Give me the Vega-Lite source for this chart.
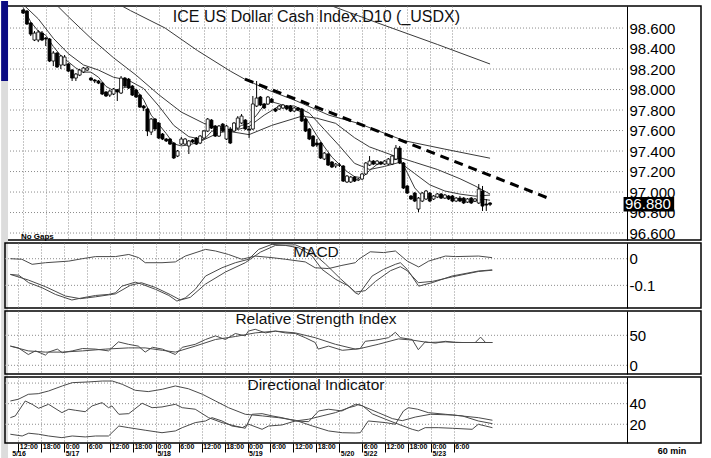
{
"$schema": "https://vega.github.io/schema/vega-lite/v6.json",
"background": "white",
"padding": {"left": 0, "top": 0, "right": 6, "bottom": 0},
"spacing": 3,
"bounds": "flush",
"config": {"view": {"stroke": "black", "strokeWidth": 1.5}, "font": "Liberation Sans", "axis": {"labelOverlap": false}},
"datasets": {
"candles": [
{"k":0,"o":98.776,"h":98.785,"l":98.737,"c":98.746},
{"k":1,"o":98.766,"h":98.776,"l":98.63,"c":98.639},
{"k":2,"o":98.649,"h":98.659,"l":98.522,"c":98.541},
{"k":3,"o":98.483,"h":98.571,"l":98.473,"c":98.551},
{"k":4,"o":98.483,"h":98.58,"l":98.463,"c":98.561},
{"k":5,"o":98.551,"h":98.571,"l":98.473,"c":98.483},
{"k":6,"o":98.502,"h":98.512,"l":98.424,"c":98.493},
{"k":7,"o":98.493,"h":98.502,"l":98.268,"c":98.278},
{"k":8,"o":98.278,"h":98.376,"l":98.229,"c":98.356},
{"k":9,"o":98.356,"h":98.366,"l":98.21,"c":98.22},
{"k":10,"o":98.239,"h":98.337,"l":98.2,"c":98.327},
{"k":11,"o":98.239,"h":98.337,"l":98.229,"c":98.317},
{"k":12,"o":98.249,"h":98.259,"l":98.171,"c":98.18},
{"k":13,"o":98.19,"h":98.2,"l":98.083,"c":98.112},
{"k":14,"o":98.112,"h":98.161,"l":98.083,"c":98.151},
{"k":15,"o":98.141,"h":98.2,"l":98.131,"c":98.19},
{"k":16,"o":98.171,"h":98.22,"l":98.161,"c":98.21},
{"k":17,"o":98.19,"h":98.22,"l":98.18,"c":98.21},
{"k":18,"o":98.112,"h":98.122,"l":98.083,"c":98.093},
{"k":19,"o":98.093,"h":98.102,"l":98.063,"c":98.083},
{"k":20,"o":98.083,"h":98.093,"l":98.053,"c":98.063},
{"k":21,"o":98.063,"h":98.073,"l":97.946,"c":97.956},
{"k":22,"o":97.976,"h":97.985,"l":97.927,"c":97.937},
{"k":23,"o":97.946,"h":97.995,"l":97.927,"c":97.985},
{"k":24,"o":97.956,"h":98.015,"l":97.946,"c":98.005},
{"k":25,"o":97.995,"h":98.005,"l":97.888,"c":97.976},
{"k":26,"o":97.966,"h":98.132,"l":97.956,"c":98.112},
{"k":27,"o":98.112,"h":98.122,"l":98.024,"c":98.034},
{"k":28,"o":98.102,"h":98.112,"l":98.005,"c":98.015},
{"k":29,"o":98.034,"h":98.044,"l":97.937,"c":97.946},
{"k":30,"o":97.995,"h":98.005,"l":97.917,"c":97.927},
{"k":31,"o":97.946,"h":97.956,"l":97.82,"c":97.829},
{"k":32,"o":97.839,"h":97.849,"l":97.79,"c":97.82},
{"k":33,"o":97.81,"h":97.82,"l":97.546,"c":97.595},
{"k":34,"o":97.585,"h":97.722,"l":97.556,"c":97.712},
{"k":35,"o":97.712,"h":97.722,"l":97.595,"c":97.615},
{"k":36,"o":97.673,"h":97.683,"l":97.517,"c":97.527},
{"k":37,"o":97.566,"h":97.576,"l":97.507,"c":97.517},
{"k":38,"o":97.517,"h":97.527,"l":97.488,"c":97.498},
{"k":39,"o":97.517,"h":97.527,"l":97.459,"c":97.468},
{"k":40,"o":97.478,"h":97.488,"l":97.322,"c":97.332},
{"k":41,"o":97.351,"h":97.41,"l":97.341,"c":97.4},
{"k":42,"o":97.468,"h":97.537,"l":97.459,"c":97.517},
{"k":43,"o":97.468,"h":97.527,"l":97.459,"c":97.517},
{"k":44,"o":97.449,"h":97.507,"l":97.371,"c":97.498},
{"k":45,"o":97.507,"h":97.517,"l":97.478,"c":97.488},
{"k":46,"o":97.527,"h":97.537,"l":97.459,"c":97.468},
{"k":47,"o":97.478,"h":97.556,"l":97.468,"c":97.546},
{"k":48,"o":97.527,"h":97.605,"l":97.517,"c":97.595},
{"k":49,"o":97.595,"h":97.722,"l":97.585,"c":97.712},
{"k":50,"o":97.702,"h":97.712,"l":97.615,"c":97.624},
{"k":51,"o":97.644,"h":97.654,"l":97.537,"c":97.546},
{"k":52,"o":97.546,"h":97.654,"l":97.537,"c":97.644},
{"k":53,"o":97.663,"h":97.673,"l":97.585,"c":97.595},
{"k":54,"o":97.517,"h":97.654,"l":97.507,"c":97.644},
{"k":55,"o":97.615,"h":97.634,"l":97.468,"c":97.478},
{"k":56,"o":97.595,"h":97.683,"l":97.585,"c":97.673},
{"k":57,"o":97.624,"h":97.741,"l":97.615,"c":97.722},
{"k":58,"o":97.673,"h":97.761,"l":97.663,"c":97.741},
{"k":59,"o":97.702,"h":97.712,"l":97.605,"c":97.615},
{"k":60,"o":97.615,"h":97.644,"l":97.527,"c":97.605},
{"k":61,"o":97.615,"h":97.937,"l":97.605,"c":97.859},
{"k":62,"o":97.839,"h":98.083,"l":97.829,"c":97.917},
{"k":63,"o":97.927,"h":97.937,"l":97.839,"c":97.849},
{"k":64,"o":97.859,"h":97.869,"l":97.81,"c":97.82},
{"k":65,"o":97.859,"h":97.937,"l":97.849,"c":97.927},
{"k":66,"o":97.907,"h":97.917,"l":97.869,"c":97.878},
{"k":67,"o":97.81,"h":97.82,"l":97.78,"c":97.79},
{"k":68,"o":97.81,"h":97.849,"l":97.8,"c":97.839},
{"k":69,"o":97.82,"h":97.859,"l":97.81,"c":97.849},
{"k":70,"o":97.839,"h":97.849,"l":97.8,"c":97.81},
{"k":71,"o":97.839,"h":97.849,"l":97.78,"c":97.79},
{"k":72,"o":97.79,"h":97.829,"l":97.78,"c":97.82},
{"k":73,"o":97.82,"h":97.829,"l":97.79,"c":97.8},
{"k":74,"o":97.81,"h":97.82,"l":97.683,"c":97.693},
{"k":75,"o":97.712,"h":97.722,"l":97.585,"c":97.595},
{"k":76,"o":97.615,"h":97.624,"l":97.507,"c":97.517},
{"k":77,"o":97.546,"h":97.556,"l":97.439,"c":97.449},
{"k":78,"o":97.478,"h":97.517,"l":97.439,"c":97.459},
{"k":79,"o":97.478,"h":97.488,"l":97.322,"c":97.332},
{"k":80,"o":97.322,"h":97.39,"l":97.312,"c":97.38},
{"k":81,"o":97.371,"h":97.38,"l":97.254,"c":97.263},
{"k":82,"o":97.293,"h":97.302,"l":97.234,"c":97.244},
{"k":83,"o":97.254,"h":97.283,"l":97.234,"c":97.273},
{"k":84,"o":97.263,"h":97.283,"l":97.244,"c":97.263},
{"k":85,"o":97.254,"h":97.263,"l":97.098,"c":97.107},
{"k":86,"o":97.098,"h":97.166,"l":97.088,"c":97.156},
{"k":87,"o":97.098,"h":97.156,"l":97.088,"c":97.146},
{"k":88,"o":97.146,"h":97.156,"l":97.098,"c":97.107},
{"k":89,"o":97.117,"h":97.137,"l":97.107,"c":97.127},
{"k":90,"o":97.127,"h":97.186,"l":97.117,"c":97.176},
{"k":91,"o":97.176,"h":97.293,"l":97.166,"c":97.283},
{"k":92,"o":97.263,"h":97.351,"l":97.254,"c":97.302},
{"k":93,"o":97.302,"h":97.312,"l":97.263,"c":97.273},
{"k":94,"o":97.273,"h":97.312,"l":97.263,"c":97.302},
{"k":95,"o":97.293,"h":97.302,"l":97.263,"c":97.273},
{"k":96,"o":97.273,"h":97.312,"l":97.263,"c":97.302},
{"k":97,"o":97.273,"h":97.332,"l":97.263,"c":97.322},
{"k":98,"o":97.273,"h":97.361,"l":97.263,"c":97.351},
{"k":99,"o":97.322,"h":97.459,"l":97.312,"c":97.429},
{"k":100,"o":97.429,"h":97.449,"l":97.273,"c":97.283},
{"k":101,"o":97.283,"h":97.293,"l":97.029,"c":97.039},
{"k":102,"o":97.059,"h":97.068,"l":96.981,"c":96.99},
{"k":103,"o":96.961,"h":96.971,"l":96.922,"c":96.932},
{"k":104,"o":96.99,"h":97.0,"l":96.902,"c":96.912},
{"k":105,"o":96.834,"h":96.951,"l":96.805,"c":96.941},
{"k":106,"o":96.912,"h":97.0,"l":96.902,"c":96.99},
{"k":107,"o":96.932,"h":97.02,"l":96.922,"c":97.01},
{"k":108,"o":96.99,"h":97.0,"l":96.902,"c":96.912},
{"k":109,"o":96.932,"h":96.971,"l":96.922,"c":96.961},
{"k":110,"o":96.951,"h":96.99,"l":96.941,"c":96.981},
{"k":111,"o":96.981,"h":96.99,"l":96.932,"c":96.941},
{"k":112,"o":96.941,"h":96.981,"l":96.932,"c":96.971},
{"k":113,"o":96.961,"h":96.971,"l":96.922,"c":96.932},
{"k":114,"o":96.961,"h":96.971,"l":96.902,"c":96.912},
{"k":115,"o":96.912,"h":96.951,"l":96.902,"c":96.941},
{"k":116,"o":96.941,"h":96.961,"l":96.902,"c":96.912},
{"k":117,"o":96.941,"h":96.951,"l":96.883,"c":96.893},
{"k":118,"o":96.902,"h":96.941,"l":96.893,"c":96.932},
{"k":119,"o":96.941,"h":96.951,"l":96.883,"c":96.893},
{"k":120,"o":96.912,"h":96.941,"l":96.902,"c":96.932},
{"k":121,"o":96.893,"h":97.078,"l":96.883,"c":97.029},
{"k":122,"o":97.01,"h":97.059,"l":96.815,"c":96.863},
{"k":123,"o":96.883,"h":96.932,"l":96.815,"c":96.873},
{"k":124,"o":96.893,"h":96.902,"l":96.863,"c":96.88}
],
"ma": [
{"s":"S","k":0,"v":98.80},{"s":"S","k":2,"v":98.66},{"s":"S","k":4,"v":98.57},{"s":"S","k":6,"v":98.53},{"s":"S","k":8,"v":98.42},{"s":"S","k":10,"v":98.33},{"s":"S","k":12,"v":98.27},{"s":"S","k":14,"v":98.21},{"s":"S","k":16,"v":98.17},{"s":"S","k":18,"v":98.17},{"s":"S","k":20,"v":98.12},{"s":"S","k":22,"v":98.03},{"s":"S","k":24,"v":97.99},{"s":"S","k":26,"v":98.01},{"s":"S","k":28,"v":98.03},{"s":"S","k":30,"v":98.00},{"s":"S","k":32,"v":97.90},{"s":"S","k":34,"v":97.75},{"s":"S","k":36,"v":97.66},{"s":"S","k":38,"v":97.57},{"s":"S","k":40,"v":97.47},{"s":"S","k":42,"v":97.45},{"s":"S","k":44,"v":97.46},{"s":"S","k":46,"v":97.48},{"s":"S","k":48,"v":97.51},{"s":"S","k":50,"v":97.59},{"s":"S","k":52,"v":97.62},{"s":"S","k":54,"v":97.61},{"s":"S","k":56,"v":97.61},{"s":"S","k":58,"v":97.65},{"s":"S","k":60,"v":97.67},{"s":"S","k":62,"v":97.75},{"s":"S","k":64,"v":97.85},{"s":"S","k":66,"v":97.88},{"s":"S","k":68,"v":97.86},{"s":"S","k":70,"v":97.83},{"s":"S","k":72,"v":97.81},{"s":"S","k":74,"v":97.78},{"s":"S","k":76,"v":97.67},{"s":"S","k":78,"v":97.55},{"s":"S","k":80,"v":97.44},{"s":"S","k":82,"v":97.34},{"s":"S","k":84,"v":97.27},{"s":"S","k":86,"v":97.20},{"s":"S","k":88,"v":97.15},{"s":"S","k":90,"v":97.14},{"s":"S","k":92,"v":97.21},{"s":"S","k":94,"v":97.27},{"s":"S","k":96,"v":97.29},{"s":"S","k":98,"v":97.31},{"s":"S","k":100,"v":97.33},{"s":"S","k":102,"v":97.19},{"s":"S","k":104,"v":97.04},{"s":"S","k":106,"v":96.96},{"s":"S","k":108,"v":96.95},{"s":"S","k":110,"v":96.96},{"s":"S","k":112,"v":96.96},{"s":"S","k":114,"v":96.94},{"s":"S","k":116,"v":96.93},{"s":"S","k":118,"v":96.91},{"s":"S","k":120,"v":96.91},{"s":"S","k":122,"v":96.93},{"s":"S","k":124,"v":96.92},
{"s":"M","k":0,"v":98.83},{"s":"M","k":4,"v":98.69},{"s":"M","k":8,"v":98.50},{"s":"M","k":12,"v":98.35},{"s":"M","k":16,"v":98.24},{"s":"M","k":20,"v":98.19},{"s":"M","k":24,"v":98.12},{"s":"M","k":28,"v":98.09},{"s":"M","k":32,"v":98.01},{"s":"M","k":36,"v":97.84},{"s":"M","k":40,"v":97.65},{"s":"M","k":44,"v":97.54},{"s":"M","k":48,"v":97.51},{"s":"M","k":52,"v":97.58},{"s":"M","k":56,"v":97.60},{"s":"M","k":60,"v":97.64},{"s":"M","k":64,"v":97.75},{"s":"M","k":68,"v":97.84},{"s":"M","k":72,"v":97.84},{"s":"M","k":76,"v":97.77},{"s":"M","k":80,"v":97.61},{"s":"M","k":84,"v":97.45},{"s":"M","k":88,"v":97.28},{"s":"M","k":92,"v":97.22},{"s":"M","k":96,"v":97.25},{"s":"M","k":100,"v":97.29},{"s":"M","k":104,"v":97.18},{"s":"M","k":108,"v":97.07},{"s":"M","k":112,"v":97.01},{"s":"M","k":116,"v":96.98},{"s":"M","k":120,"v":96.96},{"s":"M","k":124,"v":96.97},
{"s":"L3","k":0,"v":99.12},{"s":"L3","k":6,"v":98.93},{"s":"L3","k":12,"v":98.71},{"s":"L3","k":18,"v":98.50},{"s":"L3","k":24,"v":98.31},{"s":"L3","k":30,"v":98.14},{"s":"L3","k":36,"v":97.95},{"s":"L3","k":42,"v":97.78},{"s":"L3","k":48,"v":97.67},{"s":"L3","k":55,"v":97.59},{"s":"L3","k":60,"v":97.56},{"s":"L3","k":66,"v":97.65},{"s":"L3","k":74,"v":97.74},{"s":"L3","k":78,"v":97.72},{"s":"L3","k":83,"v":97.67},{"s":"L3","k":88,"v":97.53},{"s":"L3","k":92,"v":97.44},{"s":"L3","k":98,"v":97.36},{"s":"L3","k":104,"v":97.29},{"s":"L3","k":110,"v":97.22},{"s":"L3","k":116,"v":97.13},{"s":"L3","k":120,"v":97.06},{"s":"L3","k":124,"v":96.98},
{"s":"L2","k":0,"v":99.30},{"s":"L2","k":15,"v":99.04},{"s":"L2","k":28.5,"v":98.77},{"s":"L2","k":37.7,"v":98.60},{"s":"L2","k":46.3,"v":98.38},{"s":"L2","k":55,"v":98.18},{"s":"L2","k":58.9,"v":98.10},{"s":"L2","k":65.4,"v":97.99},{"s":"L2","k":72.5,"v":97.89},{"s":"L2","k":81.2,"v":97.75},{"s":"L2","k":89,"v":97.67},{"s":"L2","k":101.3,"v":97.50},{"s":"L2","k":111.8,"v":97.42},{"s":"L2","k":124,"v":97.33},
{"s":"L1","k":78,"v":98.87},{"s":"L1","k":94.2,"v":98.649},{"s":"L1","k":110,"v":98.44},{"s":"L1","k":124,"v":98.249}
],
"trend": [{"k":58.9,"v":98.102},{"k":139.4,"v":96.941}],
"macd": [
{"s":"A","k":-2.1,"v":0},{"s":"A","k":0.9,"v":-0.002},{"s":"A","k":3.6,"v":-0.021},{"s":"A","k":7.1,"v":-0.015},{"s":"A","k":13.2,"v":-0.009},{"s":"A","k":16.7,"v":0},{"s":"A","k":20.2,"v":0.008},{"s":"A","k":25.4,"v":0.008},{"s":"A","k":28.9,"v":0.016},{"s":"A","k":31.5,"v":0.004},{"s":"A","k":33.2,"v":-0.015},{"s":"A","k":37.6,"v":-0.015},{"s":"A","k":41.1,"v":-0.012},{"s":"A","k":43.7,"v":0.01},{"s":"A","k":49,"v":0.035},{"s":"A","k":51.6,"v":0.029},{"s":"A","k":55,"v":0.016},{"s":"A","k":58.5,"v":-0.002},{"s":"A","k":62,"v":0.01},{"s":"A","k":66.4,"v":0.004},{"s":"A","k":69.9,"v":-0.002},{"s":"A","k":75.1,"v":-0.012},{"s":"A","k":77.7,"v":-0.034},{"s":"A","k":81.2,"v":-0.037},{"s":"A","k":84.7,"v":-0.025},{"s":"A","k":88.2,"v":-0.015},{"s":"A","k":89.1,"v":-0.002},{"s":"A","k":92.1,"v":0.026},{"s":"A","k":95.6,"v":0.023},{"s":"A","k":98.7,"v":0.029},{"s":"A","k":101.8,"v":-0.009},{"s":"A","k":104.8,"v":-0.031},{"s":"A","k":107.4,"v":-0.009},{"s":"A","k":111.8,"v":0.01},{"s":"A","k":114.4,"v":0.008},{"s":"A","k":120.5,"v":0.01},{"s":"A","k":124,"v":0.004},
{"s":"B","k":-2.1,"v":-0.059},{"s":"B","k":0.1,"v":-0.062},{"s":"B","k":2.7,"v":-0.09},{"s":"B","k":6.2,"v":-0.109},{"s":"B","k":9.7,"v":-0.134},{"s":"B","k":14,"v":-0.155},{"s":"B","k":16.7,"v":-0.147},{"s":"B","k":20.2,"v":-0.138},{"s":"B","k":23.6,"v":-0.134},{"s":"B","k":25.4,"v":-0.128},{"s":"B","k":27.1,"v":-0.103},{"s":"B","k":30.6,"v":-0.088},{"s":"B","k":32.4,"v":-0.096},{"s":"B","k":35.9,"v":-0.115},{"s":"B","k":39.4,"v":-0.138},{"s":"B","k":41.5,"v":-0.159},{"s":"B","k":43.7,"v":-0.147},{"s":"B","k":46.3,"v":-0.115},{"s":"B","k":49,"v":-0.065},{"s":"B","k":53.3,"v":-0.034},{"s":"B","k":56.8,"v":-0.015},{"s":"B","k":60.3,"v":-0.002},{"s":"B","k":62.9,"v":0.035},{"s":"B","k":66.4,"v":0.054},{"s":"B","k":69.9,"v":0.05},{"s":"B","k":73.4,"v":0.041},{"s":"B","k":76.9,"v":0.01},{"s":"B","k":79.5,"v":-0.04},{"s":"B","k":83,"v":-0.077},{"s":"B","k":86.5,"v":-0.103},{"s":"B","k":88.2,"v":-0.128},{"s":"B","k":89.1,"v":-0.134},{"s":"B","k":92.6,"v":-0.065},{"s":"B","k":95.6,"v":-0.04},{"s":"B","k":98.7,"v":-0.021},{"s":"B","k":100,"v":-0.015},{"s":"B","k":101.8,"v":-0.04},{"s":"B","k":104.8,"v":-0.103},{"s":"B","k":108.3,"v":-0.09},{"s":"B","k":113.5,"v":-0.065},{"s":"B","k":120.5,"v":-0.046},{"s":"B","k":124,"v":-0.042},
{"s":"C","k":-2.1,"v":-0.059},{"s":"C","k":2.6,"v":-0.08},{"s":"C","k":7.1,"v":-0.105},{"s":"C","k":12.3,"v":-0.14},{"s":"C","k":16.2,"v":-0.15},{"s":"C","k":20.2,"v":-0.143},{"s":"C","k":25.4,"v":-0.132},{"s":"C","k":29.3,"v":-0.1},{"s":"C","k":32.2,"v":-0.09},{"s":"C","k":35.9,"v":-0.108},{"s":"C","k":39.8,"v":-0.135},{"s":"C","k":42.4,"v":-0.155},{"s":"C","k":45,"v":-0.145},{"s":"C","k":49,"v":-0.095},{"s":"C","k":54.2,"v":-0.05},{"s":"C","k":59.4,"v":-0.015},{"s":"C","k":63.4,"v":0.025},{"s":"C","k":67.3,"v":0.05},{"s":"C","k":72.5,"v":0.052},{"s":"C","k":76.4,"v":0.03},{"s":"C","k":80.4,"v":-0.02},{"s":"C","k":84.3,"v":-0.075},{"s":"C","k":88.2,"v":-0.125},{"s":"C","k":90.8,"v":-0.12},{"s":"C","k":93.5,"v":-0.085},{"s":"C","k":97.4,"v":-0.045},{"s":"C","k":100,"v":-0.03},{"s":"C","k":101.8,"v":-0.045},{"s":"C","k":104.7,"v":-0.09},{"s":"C","k":108.4,"v":-0.085},{"s":"C","k":113.6,"v":-0.068},{"s":"C","k":120.4,"v":-0.048},{"s":"C","k":124.1,"v":-0.043}
],
"rsi": [
{"s":"R","k":-2.1,"v":32},{"s":"R","k":0,"v":29},{"s":"R","k":2.6,"v":18},{"s":"R","k":4.5,"v":24},{"s":"R","k":7.1,"v":17},{"s":"R","k":7.9,"v":22},{"s":"R","k":10.2,"v":27},{"s":"R","k":11.5,"v":21},{"s":"R","k":14.1,"v":24},{"s":"R","k":16.8,"v":28},{"s":"R","k":20.2,"v":27},{"s":"R","k":23.6,"v":24},{"s":"R","k":26.2,"v":39},{"s":"R","k":28.8,"v":35},{"s":"R","k":31.4,"v":32},{"s":"R","k":33.2,"v":22},{"s":"R","k":35.1,"v":30},{"s":"R","k":37.7,"v":27},{"s":"R","k":41.1,"v":18},{"s":"R","k":42.9,"v":30},{"s":"R","k":46.3,"v":35},{"s":"R","k":49,"v":43},{"s":"R","k":51.6,"v":49},{"s":"R","k":54.2,"v":43},{"s":"R","k":56.8,"v":53},{"s":"R","k":59.4,"v":49},{"s":"R","k":60.2,"v":57},{"s":"R","k":62,"v":60},{"s":"R","k":64.7,"v":54},{"s":"R","k":67.3,"v":57},{"s":"R","k":69.9,"v":54},{"s":"R","k":72.5,"v":53},{"s":"R","k":75.1,"v":46},{"s":"R","k":77.7,"v":38},{"s":"R","k":78.5,"v":27},{"s":"R","k":81.2,"v":32},{"s":"R","k":84.8,"v":25},{"s":"R","k":88.2,"v":27},{"s":"R","k":89.5,"v":28},{"s":"R","k":90.8,"v":40},{"s":"R","k":93.5,"v":42},{"s":"R","k":96.9,"v":46},{"s":"R","k":98.7,"v":55},{"s":"R","k":100,"v":46},{"s":"R","k":103.1,"v":43},{"s":"R","k":104.7,"v":26},{"s":"R","k":106.5,"v":39},{"s":"R","k":109.2,"v":37},{"s":"R","k":111.8,"v":40},{"s":"R","k":114.4,"v":38},{"s":"R","k":117,"v":38},{"s":"R","k":119.6,"v":38},{"s":"R","k":121,"v":47},{"s":"R","k":122.3,"v":38},{"s":"R","k":124.1,"v":38},
{"s":"Q","k":-2.1,"v":32},{"s":"Q","k":2.6,"v":24},{"s":"Q","k":7.1,"v":22},{"s":"Q","k":11.5,"v":22},{"s":"Q","k":16.8,"v":24},{"s":"Q","k":22.8,"v":27},{"s":"Q","k":28.8,"v":29},{"s":"Q","k":33.2,"v":29},{"s":"Q","k":37.7,"v":25},{"s":"Q","k":41.1,"v":22},{"s":"Q","k":46.3,"v":32},{"s":"Q","k":51.6,"v":43},{"s":"Q","k":56.8,"v":48},{"s":"Q","k":62,"v":54},{"s":"Q","k":67.3,"v":57},{"s":"Q","k":72.5,"v":54},{"s":"Q","k":77.7,"v":46},{"s":"Q","k":83,"v":35},{"s":"Q","k":88.2,"v":27},{"s":"Q","k":89.5,"v":28},{"s":"Q","k":94.2,"v":35},{"s":"Q","k":99.5,"v":44},{"s":"Q","k":103.1,"v":42},{"s":"Q","k":107.3,"v":38},{"s":"Q","k":111.8,"v":39},{"s":"Q","k":116.2,"v":38},{"s":"Q","k":124.1,"v":38}
],
"di": [
{"s":"ADX","k":-2.1,"v":42.6},{"s":"ADX","k":0,"v":44.3},{"s":"ADX","k":2.6,"v":49.1},{"s":"ADX","k":5.2,"v":49.7},{"s":"ADX","k":7.9,"v":52.3},{"s":"ADX","k":11.5,"v":57.2},{"s":"ADX","k":14.1,"v":60.4},{"s":"ADX","k":18.3,"v":61.1},{"s":"ADX","k":22,"v":62},{"s":"ADX","k":24.6,"v":62},{"s":"ADX","k":27.2,"v":58.8},{"s":"ADX","k":30.6,"v":53},{"s":"ADX","k":34,"v":51.7},{"s":"ADX","k":37.7,"v":54},{"s":"ADX","k":41.1,"v":57.2},{"s":"ADX","k":44.5,"v":54.5},{"s":"ADX","k":48.2,"v":49.1},{"s":"ADX","k":51.6,"v":42.6},{"s":"ADX","k":55,"v":36.1},{"s":"ADX","k":59.4,"v":29.7},{"s":"ADX","k":63.9,"v":28.1},{"s":"ADX","k":68.1,"v":26.4},{"s":"ADX","k":72.5,"v":23.9},{"s":"ADX","k":77,"v":18.3},{"s":"ADX","k":81.2,"v":13.5},{"s":"ADX","k":84.8,"v":11.8},{"s":"ADX","k":88.2,"v":11.5},{"s":"ADX","k":89.5,"v":11.8},{"s":"ADX","k":91.6,"v":23.2},{"s":"ADX","k":96.1,"v":21.6},{"s":"ADX","k":98.7,"v":20},{"s":"ADX","k":100.8,"v":32.9},{"s":"ADX","k":102.1,"v":36.1},{"s":"ADX","k":104.5,"v":34.6},{"s":"ADX","k":107.3,"v":31.3},{"s":"ADX","k":111.8,"v":29.7},{"s":"ADX","k":116.2,"v":28.1},{"s":"ADX","k":120.4,"v":23.2},{"s":"ADX","k":124.1,"v":20.6},
{"s":"PDI","k":-2.1,"v":26.4},{"s":"PDI","k":-0.8,"v":28.1},{"s":"PDI","k":1.8,"v":42.6},{"s":"PDI","k":3.6,"v":39.4},{"s":"PDI","k":5.3,"v":35.5},{"s":"PDI","k":7.9,"v":39.4},{"s":"PDI","k":11.4,"v":31.3},{"s":"PDI","k":13.2,"v":34.6},{"s":"PDI","k":14.9,"v":33.6},{"s":"PDI","k":17.5,"v":32.2},{"s":"PDI","k":19.3,"v":37.8},{"s":"PDI","k":21.9,"v":41},{"s":"PDI","k":23.6,"v":36.1},{"s":"PDI","k":24.5,"v":37.8},{"s":"PDI","k":26.3,"v":29.7},{"s":"PDI","k":28.9,"v":30.3},{"s":"PDI","k":32.4,"v":40.4},{"s":"PDI","k":35,"v":36.1},{"s":"PDI","k":37.6,"v":36.8},{"s":"PDI","k":41.1,"v":39.4},{"s":"PDI","k":42.9,"v":36.1},{"s":"PDI","k":46.3,"v":34.6},{"s":"PDI","k":49.8,"v":26.4},{"s":"PDI","k":53.3,"v":21.6},{"s":"PDI","k":56.8,"v":18.3},{"s":"PDI","k":59.4,"v":16.1},{"s":"PDI","k":61.2,"v":29.7},{"s":"PDI","k":63.8,"v":30.3},{"s":"PDI","k":66.4,"v":28.1},{"s":"PDI","k":69,"v":26.4},{"s":"PDI","k":72.5,"v":23.2},{"s":"PDI","k":76,"v":22.5},{"s":"PDI","k":78.6,"v":32.9},{"s":"PDI","k":81.2,"v":34.6},{"s":"PDI","k":84.7,"v":32.9},{"s":"PDI","k":88.2,"v":39.4},{"s":"PDI","k":90.1,"v":38},{"s":"PDI","k":92.7,"v":30},{"s":"PDI","k":96.1,"v":24.9},{"s":"PDI","k":99.5,"v":20},{"s":"PDI","k":103.1,"v":15.1},{"s":"PDI","k":104.7,"v":13.5},{"s":"PDI","k":106.5,"v":16.7},{"s":"PDI","k":109.9,"v":16.7},{"s":"PDI","k":113.6,"v":16.1},{"s":"PDI","k":118.8,"v":15.1},{"s":"PDI","k":120.4,"v":20},{"s":"PDI","k":122.3,"v":18.3},{"s":"PDI","k":124.1,"v":16.7},
{"s":"MDI","k":-2.1,"v":10.3},{"s":"MDI","k":1,"v":8.6},{"s":"MDI","k":2.7,"v":11.3},{"s":"MDI","k":5.3,"v":10.3},{"s":"MDI","k":7.9,"v":8.6},{"s":"MDI","k":11.4,"v":7},{"s":"MDI","k":14.1,"v":8.6},{"s":"MDI","k":17.5,"v":7.7},{"s":"MDI","k":20.2,"v":8.6},{"s":"MDI","k":23.6,"v":8.6},{"s":"MDI","k":26.3,"v":18.3},{"s":"MDI","k":28.9,"v":16.7},{"s":"MDI","k":33.2,"v":14.2},{"s":"MDI","k":37.6,"v":11.8},{"s":"MDI","k":41.1,"v":13.5},{"s":"MDI","k":42.9,"v":16.7},{"s":"MDI","k":46.3,"v":21.6},{"s":"MDI","k":49,"v":23.2},{"s":"MDI","k":50.7,"v":26.4},{"s":"MDI","k":53.3,"v":23.2},{"s":"MDI","k":55.9,"v":18.3},{"s":"MDI","k":58.6,"v":16.7},{"s":"MDI","k":60.3,"v":20},{"s":"MDI","k":63.8,"v":15.1},{"s":"MDI","k":65.5,"v":18.3},{"s":"MDI","k":69,"v":19.3},{"s":"MDI","k":72.5,"v":23.2},{"s":"MDI","k":76,"v":24.9},{"s":"MDI","k":79.5,"v":28.1},{"s":"MDI","k":83,"v":31.3},{"s":"MDI","k":86.5,"v":36.1},{"s":"MDI","k":88.2,"v":37.8},{"s":"MDI","k":89,"v":39.4},{"s":"MDI","k":94.2,"v":31.3},{"s":"MDI","k":97.9,"v":25.5},{"s":"MDI","k":100.5,"v":23.5},{"s":"MDI","k":103.9,"v":27},{"s":"MDI","k":107.9,"v":29.7},{"s":"MDI","k":113.6,"v":29},{"s":"MDI","k":120.4,"v":26.4},{"s":"MDI","k":124.1,"v":23.9}
],
"gmain": [{"g":96.6},{"g":96.8},{"g":97.0},{"g":97.2},{"g":97.4},{"g":97.6},{"g":97.8},{"g":98.0},{"g":98.2},{"g":98.4},{"g":98.6}],
"gmacd": [{"g":0},{"g":-0.1}],
"grsi": [{"g":0},{"g":50}],
"gdi": [{"g":20},{"g":40},{"g":60}]
},
"vconcat": [
{
"width": 696, "height": 234,
"layer": [
{"data": {"name": "gmain"},
 "mark": {"type": "rule", "color": "#8c8c8c", "strokeDash": [1,2], "strokeWidth": 1},
 "encoding": {
  "x": {"datum": -3.5, "type": "quantitative", "scale": {"domain": [-3.5, 178.7], "nice": false, "zero": false},
        "axis": {"values": [0,6,12,18,24,30,36,42,48,54,60,66,72,78,84,90,96,102,108,114], "tickCount": 100, "labels": false, "ticks": false, "domain": false, "grid": true, "gridColor": "#8c8c8c", "gridDash": [1,2], "title": null}},
  "x2": {"datum": 159.3},
  "y": {"field": "g", "type": "quantitative", "scale": {"domain": [96.532, 98.815], "nice": false, "zero": false},
        "axis": {"orient": "right", "offset": -74, "values": [96.6,96.8,97.0,97.2,97.4,97.6,97.8,98.0,98.2,98.4,98.6], "tickCount": 100, "format": ".3f", "grid": false, "ticks": false, "domain": true, "domainColor": "black", "domainWidth": 1, "labelFont": "Liberation Sans", "labelFontSize": 15, "labelColor": "black", "labelPadding": 2, "labelOverlap": false, "labelBound": false, "title": null}}
 }},
{"data": {"values": [{}]}, "mark": {"type": "rect", "color": "#0b0b82"},
 "encoding": {"x": {"datum": -5.86}, "x2": {"datum": -4.02}, "y": {"datum": 98.864}, "y2": {"datum": 98.083}}},
{"data": {"values": [{}]}, "mark": {"type": "rect", "color": "#dcdcdc"},
 "encoding": {"x": {"datum": -5.86}, "x2": {"datum": -4.02}, "y": {"datum": 98.083}, "y2": {"datum": 94.395}}},
{"data": {"name": "ma"}, "mark": {"type": "line", "color": "#3a3a3a", "strokeWidth": 1, "clip": true},
 "encoding": {"x": {"field": "k", "type": "quantitative"}, "y": {"field": "v", "type": "quantitative"}, "detail": {"field": "s"}}},
{"data": {"name": "trend"}, "mark": {"type": "line", "color": "black", "strokeWidth": 3, "strokeDash": [9,6], "clip": true},
 "encoding": {"x": {"field": "k", "type": "quantitative"}, "y": {"field": "v", "type": "quantitative"}}},
{"data": {"name": "candles"}, "mark": {"type": "rule", "color": "black", "strokeWidth": 1, "clip": true},
 "encoding": {"x": {"field": "k", "type": "quantitative"}, "y": {"field": "l", "type": "quantitative"}, "y2": {"field": "h"}}},
{"data": {"name": "candles"}, "mark": {"type": "bar", "size": 3, "stroke": "black", "strokeWidth": 0.8, "clip": true},
 "encoding": {"x": {"field": "k", "type": "quantitative"}, "y": {"field": "o", "type": "quantitative"}, "y2": {"field": "c"},
  "fill": {"condition": {"test": "datum.c >= datum.o", "value": "white"}, "value": "black"}}},
{"data": {"values": [{}]}, "mark": {"type": "text", "text": "ICE  US  Dollar  Cash  Index.D10  (_USDX)", "font": "Liberation Sans", "fontSize": 16, "color": "#111", "align": "center", "baseline": "middle"},
 "encoding": {"x": {"datum": 77.9}, "y": {"datum": 98.707}}},
{"data": {"values": [{}]}, "mark": {"type": "text", "text": "No  Gaps", "font": "Liberation Sans", "fontSize": 8, "fontWeight": "bold", "color": "black", "align": "left", "baseline": "middle"},
 "encoding": {"x": {"datum": -0.6}, "y": {"datum": 96.561}}},
{"data": {"values": [{}]}, "mark": {"type": "rect", "color": "black"},
 "encoding": {"x": {"datum": 159.46}, "x2": {"datum": 172.9}, "y": {"datum": 96.951}, "y2": {"datum": 96.809}}},
{"data": {"values": [{}]}, "mark": {"type": "text", "text": "96.880", "font": "Liberation Sans", "fontSize": 15, "color": "white", "align": "left", "baseline": "middle"},
 "encoding": {"x": {"datum": 159.85}, "y": {"datum": 96.88}}}
]
},
{
"width": 696, "height": 65,
"layer": [
{"data": {"name": "gmacd"},
 "mark": {"type": "rule", "color": "#8c8c8c", "strokeDash": [1,2], "strokeWidth": 1},
 "encoding": {
  "x": {"datum": -3.5, "type": "quantitative", "scale": {"domain": [-3.5, 178.7], "nice": false, "zero": false},
        "axis": {"values": [0,6,12,18,24,30,36,42,48,54,60,66,72,78,84,90,96,102,108,114], "tickCount": 100, "labels": false, "ticks": false, "domain": false, "grid": true, "gridColor": "#8c8c8c", "gridDash": [1,2], "title": null}},
  "x2": {"datum": 159.3},
  "y": {"field": "g", "type": "quantitative", "scale": {"domain": [-0.185, 0.059], "nice": false, "zero": false},
        "axis": {"orient": "right", "offset": -74, "values": [0, -0.1], "tickCount": 100, "labelExpr": "datum.value == 0 ? '0' : '-0.1'", "grid": false, "ticks": false, "domain": true, "domainColor": "black", "labelFont": "Liberation Sans", "labelFontSize": 15, "labelColor": "black", "labelPadding": 2, "labelOverlap": false, "labelBound": false, "title": null}}
 }},
{"data": {"name": "macd"}, "mark": {"type": "line", "color": "#4a4a4a", "strokeWidth": 1, "clip": true},
 "encoding": {"x": {"field": "k", "type": "quantitative"}, "y": {"field": "v", "type": "quantitative"}, "detail": {"field": "s"}}},
{"data": {"values": [{}]}, "mark": {"type": "text", "text": "MACD", "font": "Liberation Sans", "fontSize": 15.5, "color": "#111", "align": "center", "baseline": "middle"},
 "encoding": {"x": {"datum": 77.9}, "y": {"datum": 0.025}}}
]
},
{
"width": 696, "height": 63,
"layer": [
{"data": {"name": "grsi"},
 "mark": {"type": "rule", "color": "#8c8c8c", "strokeDash": [1,2], "strokeWidth": 1},
 "encoding": {
  "x": {"datum": -3.5, "type": "quantitative", "scale": {"domain": [-3.5, 178.7], "nice": false, "zero": false},
        "axis": {"values": [0,6,12,18,24,30,36,42,48,54,60,66,72,78,84,90,96,102,108,114], "tickCount": 100, "labels": false, "ticks": false, "domain": false, "grid": true, "gridColor": "#8c8c8c", "gridDash": [1,2], "title": null}},
  "x2": {"datum": 159.3},
  "y": {"field": "g", "type": "quantitative", "scale": {"domain": [-14.5, 90.5], "nice": false, "zero": false},
        "axis": {"orient": "right", "offset": -74, "values": [0, 50], "tickCount": 100, "format": "d", "grid": false, "ticks": false, "domain": true, "domainColor": "black", "labelFont": "Liberation Sans", "labelFontSize": 15, "labelColor": "black", "labelPadding": 2, "labelOverlap": false, "labelBound": false, "title": null}}
 }},
{"data": {"name": "rsi"}, "mark": {"type": "line", "color": "#4a4a4a", "strokeWidth": 1, "clip": true},
 "encoding": {"x": {"field": "k", "type": "quantitative"}, "y": {"field": "v", "type": "quantitative"}, "detail": {"field": "s"}}},
{"data": {"values": [{}]}, "mark": {"type": "text", "text": "Relative  Strength  Index", "font": "Liberation Sans", "fontSize": 15.5, "color": "#111", "align": "center", "baseline": "middle"},
 "encoding": {"x": {"datum": 77.9}, "y": {"datum": 77.7}}}
]
},
{
"width": 696, "height": 66,
"layer": [
{"data": {"name": "gdi"},
 "mark": {"type": "rule", "color": "#8c8c8c", "strokeDash": [1,2], "strokeWidth": 1},
 "encoding": {
  "x": {"datum": -3.5, "type": "quantitative", "scale": {"domain": [-3.5, 178.7], "nice": false, "zero": false},
        "axis": {"values": [-2,0,6,12,18,24,30,36,42,48,54,60,66,72,78,84,90,96,102,108,114], "tickCount": 100,
                 "grid": true, "gridColor": {"condition": {"test": "datum.value < 0", "value": "transparent"}, "value": "#8c8c8c"}, "gridDash": [1,2],
                 "ticks": true, "tickSize": 9, "tickWidth": 1, "tickColor": {"condition": {"test": "datum.value < 0", "value": "transparent"}, "value": "black"},
                 "domain": false, "labelAlign": "left", "labelBaseline": "top", "labelPadding": -9.5, "labelOffset": 1,
                 "labelFont": "Liberation Sans", "labelFontWeight": "bold", "labelFontSize": 7, "labelLineHeight": 7.2, "labelColor": "black",
                 "labelOverlap": false, "labelFlush": false, "labelBound": false, "title": null,
                 "labelExpr": "datum.value < 0 ? ['', '5/16'] : [['12:00','18:00','0:00','6:00','12:00','18:00','0:00','6:00','12:00','18:00','0:00','6:00','12:00','18:00','','6:00','12:00','18:00','0:00','6:00'][datum.value/6], ['','','5/17','','','','5/18','','','','5/19','','','','5/20','5/22','','','5/23',''][datum.value/6]]"}},
  "x2": {"datum": 159.3},
  "y": {"field": "g", "type": "quantitative", "scale": {"domain": [1.8, 65.9], "nice": false, "zero": false},
        "axis": {"orient": "right", "offset": -74, "values": [20, 40], "tickCount": 100, "format": "d", "grid": false, "ticks": false, "domain": true, "domainColor": "black", "labelFont": "Liberation Sans", "labelFontSize": 15, "labelColor": "black", "labelPadding": 2, "labelOverlap": false, "labelBound": false, "title": null}}
 }},
{"data": {"name": "di"}, "mark": {"type": "line", "color": "#4a4a4a", "strokeWidth": 1, "clip": true},
 "encoding": {"x": {"field": "k", "type": "quantitative"}, "y": {"field": "v", "type": "quantitative"}, "detail": {"field": "s"}}},
{"data": {"values": [{}]}, "mark": {"type": "text", "text": "Directional  Indicator", "font": "Liberation Sans", "fontSize": 15.5, "color": "#111", "align": "center", "baseline": "middle"},
 "encoding": {"x": {"datum": 77.9}, "y": {"datum": 58.2}}},
{"data": {"values": [{}]}, "mark": {"type": "text", "text": "60  min", "font": "Liberation Sans", "fontSize": 9, "fontWeight": "bold", "color": "black", "align": "center", "baseline": "middle"},
 "encoding": {"x": {"datum": 171.1}, "y": {"datum": -6}}}
]
}
]
}
